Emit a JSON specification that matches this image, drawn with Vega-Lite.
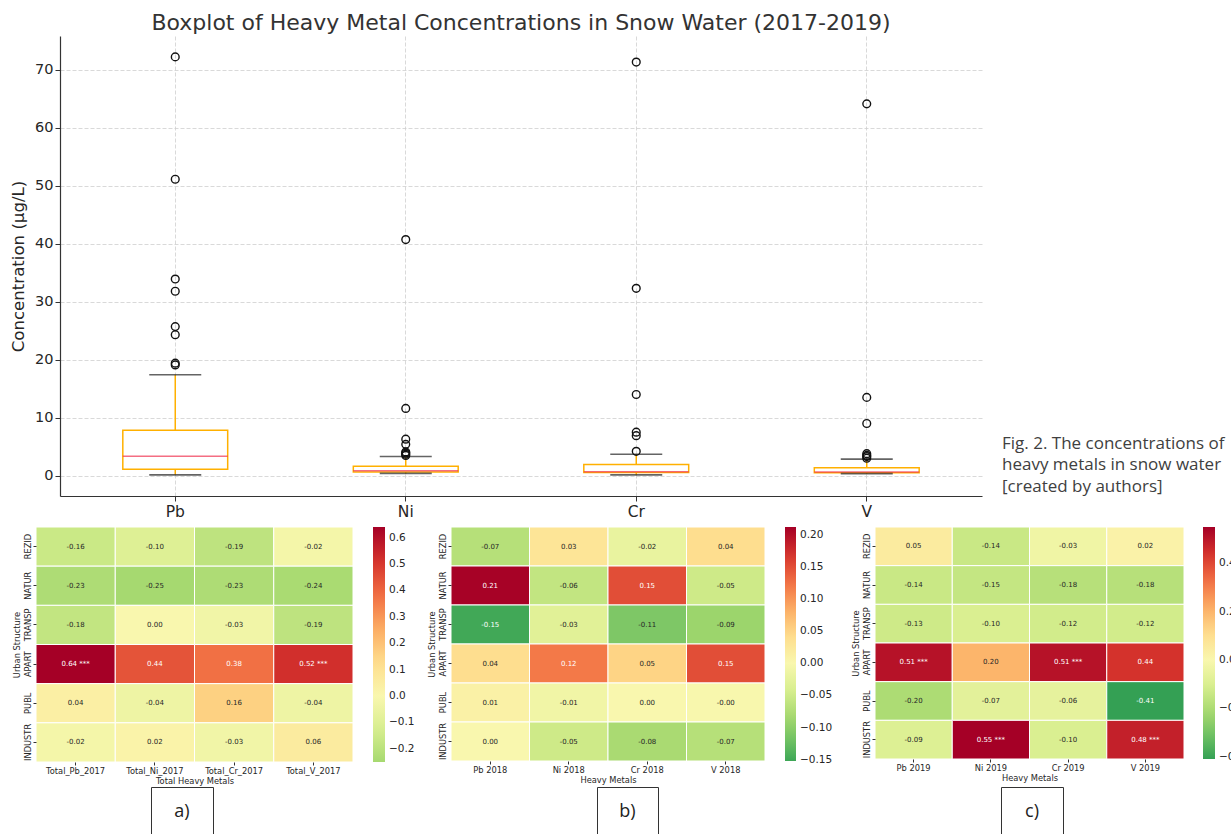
{
  "$schema": "https://vega.github.io/schema/vega-lite/v6.json",
  "autosize": {"type": "none"},
  "padding": {"left": 0, "top": 36, "right": 1231, "bottom": 798},
  "background": "white",
  "config": {
    "font": "DejaVu Sans",
    "view": {"stroke": null},
    "axis": {"labelFont": "DejaVu Sans", "titleFont": "DejaVu Sans"},
    "legend": {"labelFont": "DejaVu Sans"}
  },
  "resolve": {"scale": {"color": "independent"}, "legend": {"color": "independent"}},
  "datasets": {
    "boxstats": [
      {"metal": "Pb", "lower": 0.15, "q1": 1.1, "median": 3.35, "q3": 7.85, "upper": 17.4},
      {"metal": "Ni", "lower": 0.4, "q1": 0.62, "median": 0.85, "q3": 1.65, "upper": 3.3},
      {"metal": "Cr", "lower": 0.15, "q1": 0.55, "median": 0.7, "q3": 1.95, "upper": 3.7},
      {"metal": "V", "lower": 0.35, "q1": 0.5, "median": 0.65, "q3": 1.38, "upper": 2.85}
    ],
    "outliers": [
      {"metal": "Pb", "value": 19.1}, {"metal": "Pb", "value": 19.4}, {"metal": "Pb", "value": 24.3}, {"metal": "Pb", "value": 25.7},
      {"metal": "Pb", "value": 31.8}, {"metal": "Pb", "value": 33.9}, {"metal": "Pb", "value": 51.1}, {"metal": "Pb", "value": 72.2},
      {"metal": "Ni", "value": 3.5}, {"metal": "Ni", "value": 3.7}, {"metal": "Ni", "value": 3.9}, {"metal": "Ni", "value": 4.1},
      {"metal": "Ni", "value": 5.4}, {"metal": "Ni", "value": 6.3}, {"metal": "Ni", "value": 11.6}, {"metal": "Ni", "value": 40.7},
      {"metal": "Cr", "value": 4.2}, {"metal": "Cr", "value": 6.9}, {"metal": "Cr", "value": 7.5}, {"metal": "Cr", "value": 14.0},
      {"metal": "Cr", "value": 32.3}, {"metal": "Cr", "value": 71.3},
      {"metal": "V", "value": 3.0}, {"metal": "V", "value": 3.3}, {"metal": "V", "value": 3.5}, {"metal": "V", "value": 3.8},
      {"metal": "V", "value": 9.0}, {"metal": "V", "value": 13.5}, {"metal": "V", "value": 64.1}
    ],
    "caption": [
      {"line": 1, "text": "Fig. 2. The concentrations of"},
      {"line": 2, "text": "heavy metals in snow water"},
      {"line": 3, "text": "[created by authors]"}
    ],
    "h2017": [
      {"metal": "Total_Pb_2017", "struct": "REZID", "value": -0.16, "label": "-0.16"},
      {"metal": "Total_Ni_2017", "struct": "REZID", "value": -0.10, "label": "-0.10"},
      {"metal": "Total_Cr_2017", "struct": "REZID", "value": -0.19, "label": "-0.19"},
      {"metal": "Total_V_2017", "struct": "REZID", "value": -0.02, "label": "-0.02"},
      {"metal": "Total_Pb_2017", "struct": "NATUR", "value": -0.23, "label": "-0.23"},
      {"metal": "Total_Ni_2017", "struct": "NATUR", "value": -0.25, "label": "-0.25"},
      {"metal": "Total_Cr_2017", "struct": "NATUR", "value": -0.23, "label": "-0.23"},
      {"metal": "Total_V_2017", "struct": "NATUR", "value": -0.24, "label": "-0.24"},
      {"metal": "Total_Pb_2017", "struct": "TRANSP", "value": -0.18, "label": "-0.18"},
      {"metal": "Total_Ni_2017", "struct": "TRANSP", "value": 0.00, "label": "0.00"},
      {"metal": "Total_Cr_2017", "struct": "TRANSP", "value": -0.03, "label": "-0.03"},
      {"metal": "Total_V_2017", "struct": "TRANSP", "value": -0.19, "label": "-0.19"},
      {"metal": "Total_Pb_2017", "struct": "APART", "value": 0.64, "label": "0.64 ***"},
      {"metal": "Total_Ni_2017", "struct": "APART", "value": 0.44, "label": "0.44"},
      {"metal": "Total_Cr_2017", "struct": "APART", "value": 0.38, "label": "0.38"},
      {"metal": "Total_V_2017", "struct": "APART", "value": 0.52, "label": "0.52 ***"},
      {"metal": "Total_Pb_2017", "struct": "PUBL", "value": 0.04, "label": "0.04"},
      {"metal": "Total_Ni_2017", "struct": "PUBL", "value": -0.04, "label": "-0.04"},
      {"metal": "Total_Cr_2017", "struct": "PUBL", "value": 0.16, "label": "0.16"},
      {"metal": "Total_V_2017", "struct": "PUBL", "value": -0.04, "label": "-0.04"},
      {"metal": "Total_Pb_2017", "struct": "INDUSTR", "value": -0.02, "label": "-0.02"},
      {"metal": "Total_Ni_2017", "struct": "INDUSTR", "value": 0.02, "label": "0.02"},
      {"metal": "Total_Cr_2017", "struct": "INDUSTR", "value": -0.03, "label": "-0.03"},
      {"metal": "Total_V_2017", "struct": "INDUSTR", "value": 0.06, "label": "0.06"}
    ],
    "h2018": [
      {"metal": "Pb 2018", "struct": "REZID", "value": -0.07, "label": "-0.07"},
      {"metal": "Ni 2018", "struct": "REZID", "value": 0.03, "label": "0.03"},
      {"metal": "Cr 2018", "struct": "REZID", "value": -0.02, "label": "-0.02"},
      {"metal": "V 2018", "struct": "REZID", "value": 0.04, "label": "0.04"},
      {"metal": "Pb 2018", "struct": "NATUR", "value": 0.21, "label": "0.21"},
      {"metal": "Ni 2018", "struct": "NATUR", "value": -0.06, "label": "-0.06"},
      {"metal": "Cr 2018", "struct": "NATUR", "value": 0.15, "label": "0.15"},
      {"metal": "V 2018", "struct": "NATUR", "value": -0.05, "label": "-0.05"},
      {"metal": "Pb 2018", "struct": "TRANSP", "value": -0.15, "label": "-0.15"},
      {"metal": "Ni 2018", "struct": "TRANSP", "value": -0.03, "label": "-0.03"},
      {"metal": "Cr 2018", "struct": "TRANSP", "value": -0.11, "label": "-0.11"},
      {"metal": "V 2018", "struct": "TRANSP", "value": -0.09, "label": "-0.09"},
      {"metal": "Pb 2018", "struct": "APART", "value": 0.04, "label": "0.04"},
      {"metal": "Ni 2018", "struct": "APART", "value": 0.12, "label": "0.12"},
      {"metal": "Cr 2018", "struct": "APART", "value": 0.05, "label": "0.05"},
      {"metal": "V 2018", "struct": "APART", "value": 0.15, "label": "0.15"},
      {"metal": "Pb 2018", "struct": "PUBL", "value": 0.01, "label": "0.01"},
      {"metal": "Ni 2018", "struct": "PUBL", "value": -0.01, "label": "-0.01"},
      {"metal": "Cr 2018", "struct": "PUBL", "value": 0.00, "label": "0.00"},
      {"metal": "V 2018", "struct": "PUBL", "value": -0.001, "label": "-0.00"},
      {"metal": "Pb 2018", "struct": "INDUSTR", "value": 0.00, "label": "0.00"},
      {"metal": "Ni 2018", "struct": "INDUSTR", "value": -0.05, "label": "-0.05"},
      {"metal": "Cr 2018", "struct": "INDUSTR", "value": -0.08, "label": "-0.08"},
      {"metal": "V 2018", "struct": "INDUSTR", "value": -0.07, "label": "-0.07"}
    ],
    "h2019": [
      {"metal": "Pb 2019", "struct": "REZID", "value": 0.05, "label": "0.05"},
      {"metal": "Ni 2019", "struct": "REZID", "value": -0.14, "label": "-0.14"},
      {"metal": "Cr 2019", "struct": "REZID", "value": -0.03, "label": "-0.03"},
      {"metal": "V 2019", "struct": "REZID", "value": 0.02, "label": "0.02"},
      {"metal": "Pb 2019", "struct": "NATUR", "value": -0.14, "label": "-0.14"},
      {"metal": "Ni 2019", "struct": "NATUR", "value": -0.15, "label": "-0.15"},
      {"metal": "Cr 2019", "struct": "NATUR", "value": -0.18, "label": "-0.18"},
      {"metal": "V 2019", "struct": "NATUR", "value": -0.18, "label": "-0.18"},
      {"metal": "Pb 2019", "struct": "TRANSP", "value": -0.13, "label": "-0.13"},
      {"metal": "Ni 2019", "struct": "TRANSP", "value": -0.10, "label": "-0.10"},
      {"metal": "Cr 2019", "struct": "TRANSP", "value": -0.12, "label": "-0.12"},
      {"metal": "V 2019", "struct": "TRANSP", "value": -0.12, "label": "-0.12"},
      {"metal": "Pb 2019", "struct": "APART", "value": 0.51, "label": "0.51 ***"},
      {"metal": "Ni 2019", "struct": "APART", "value": 0.20, "label": "0.20"},
      {"metal": "Cr 2019", "struct": "APART", "value": 0.51, "label": "0.51 ***"},
      {"metal": "V 2019", "struct": "APART", "value": 0.44, "label": "0.44"},
      {"metal": "Pb 2019", "struct": "PUBL", "value": -0.20, "label": "-0.20"},
      {"metal": "Ni 2019", "struct": "PUBL", "value": -0.07, "label": "-0.07"},
      {"metal": "Cr 2019", "struct": "PUBL", "value": -0.06, "label": "-0.06"},
      {"metal": "V 2019", "struct": "PUBL", "value": -0.41, "label": "-0.41"},
      {"metal": "Pb 2019", "struct": "INDUSTR", "value": -0.09, "label": "-0.09"},
      {"metal": "Ni 2019", "struct": "INDUSTR", "value": 0.55, "label": "0.55 ***"},
      {"metal": "Cr 2019", "struct": "INDUSTR", "value": -0.10, "label": "-0.10"},
      {"metal": "V 2019", "struct": "INDUSTR", "value": 0.48, "label": "0.48 ***"}
    ]
  },
  "vconcat": [
    {
      "resolve": {"scale": {"color": "independent"}, "legend": {"color": "independent"}},
      "vconcat": [
        {
          "hconcat": [
            {"width": 60, "height": 1, "data": {"values": []}, "mark": "text", "encoding": {}},
            {
              "width": 922,
              "height": 460,
              "title": {"text": "Boxplot of Heavy Metal Concentrations in Snow Water (2017-2019)", "fontSize": 22, "font": "DejaVu Sans", "fontWeight": "normal", "color": "#333333", "anchor": "middle", "frame": "group", "baseline": "alphabetic", "offset": -16},
              "layer": [
                {
                  "data": {"name": "boxstats"},
                  "mark": {"type": "rule", "color": "#FFB000", "strokeWidth": 1.5},
                  "encoding": {
                    "x": {"field": "metal", "type": "nominal", "scale": {"type": "band", "domain": ["Pb", "Ni", "Cr", "V"], "paddingInner": 0, "paddingOuter": 0},
                      "axis": {"title": null, "labelAngle": 0, "labelFontSize": 15.5, "labelColor": "#262626", "labelPadding": 3, "tickSize": 5, "tickColor": "#333333", "domainColor": "#333333", "domainWidth": 1.2, "grid": true, "gridColor": "#cfcfcf", "gridDash": [4, 2], "gridWidth": 0.8, "bandPosition": 0.5}},
                    "y": {"field": "lower", "type": "quantitative", "scale": {"domain": [-3.5, 75.8], "nice": false, "zero": false},
                      "axis": {"title": "Concentration (µg/L)", "titleFontSize": 16.6, "titleFontWeight": "normal", "titleColor": "#262626", "titlePadding": 8, "values": [0, 10, 20, 30, 40, 50, 60, 70], "labelFontSize": 14.5, "labelColor": "#262626", "labelPadding": 2, "tickSize": 5, "tickColor": "#333333", "domainColor": "#333333", "domainWidth": 1.2, "grid": true, "gridColor": "#cfcfcf", "gridDash": [4, 2], "gridWidth": 0.8}},
                    "y2": {"field": "upper"}
                  }
                },
                {
                  "data": {"name": "boxstats"},
                  "mark": {"type": "bar", "fill": "white", "stroke": "#FFB000", "strokeWidth": 1.5, "width": {"band": 0.455}},
                  "encoding": {
                    "x": {"field": "metal", "type": "nominal"},
                    "y": {"field": "q1", "type": "quantitative"},
                    "y2": {"field": "q3"}
                  }
                },
                {
                  "data": {"name": "boxstats"},
                  "mark": {"type": "tick", "color": "#F0304E", "thickness": 1.5, "size": 105},
                  "encoding": {
                    "x": {"field": "metal", "type": "nominal"},
                    "y": {"field": "median", "type": "quantitative"}
                  }
                },
                {
                  "data": {"name": "boxstats"},
                  "mark": {"type": "tick", "color": "#222222", "thickness": 1.6, "size": 52},
                  "encoding": {
                    "x": {"field": "metal", "type": "nominal"},
                    "y": {"field": "lower", "type": "quantitative"}
                  }
                },
                {
                  "data": {"name": "boxstats"},
                  "mark": {"type": "tick", "color": "#222222", "thickness": 1.6, "size": 52},
                  "encoding": {
                    "x": {"field": "metal", "type": "nominal"},
                    "y": {"field": "upper", "type": "quantitative"}
                  }
                },
                {
                  "data": {"name": "outliers"},
                  "mark": {"type": "point", "shape": "circle", "filled": false, "stroke": "#111111", "strokeWidth": 1.4, "size": 60, "opacity": 1},
                  "encoding": {
                    "x": {"field": "metal", "type": "nominal"},
                    "y": {"field": "value", "type": "quantitative"}
                  }
                }
              ]
            },
            {"width": 20, "height": 1, "data": {"values": []}, "mark": "text", "encoding": {}},
            {
              "width": 229,
              "height": 460,
              "data": {"name": "caption"},
              "mark": {"type": "text", "align": "left", "baseline": "alphabetic", "font": "Open Sans", "fontSize": 17, "color": "#404040"},
              "encoding": {
                "x": {"datum": 0, "type": "quantitative", "scale": {"domain": [0, 1]}, "axis": null},
                "y": {"field": "line", "type": "quantitative", "scale": {"domain": [-18.21, 3.19], "reverse": true, "nice": false, "zero": false}, "axis": null},
                "text": {"field": "text"}
              }
            }
          ],
          "spacing": 0,
          "bounds": "flush"
        },
        {
          "resolve": {"scale": {"color": "independent"}, "legend": {"color": "independent"}},
          "hconcat": [
            {"width": 36, "height": 1, "data": {"values": []}, "mark": "text", "encoding": {}},
            {
              "width": 317,
              "height": 235,
              "data": {"name": "h2017"},
              "encoding": {
                "x": {"field": "metal", "type": "nominal", "scale": {"type": "band", "domain": ["Total_Pb_2017", "Total_Ni_2017", "Total_Cr_2017", "Total_V_2017"], "paddingInner": 0, "paddingOuter": 0},
                  "axis": {"title": "Total Heavy Metals", "titleFontSize": 8.3, "titleFontWeight": "normal", "titleColor": "#262626", "titlePadding": 2, "labelAngle": 0, "labelFontSize": 8.3, "labelColor": "#262626", "labelPadding": 1, "tickSize": 3, "tickColor": "#333333", "domain": false}},
                "y": {"field": "struct", "type": "nominal", "scale": {"type": "band", "domain": ["REZID", "NATUR", "TRANSP", "APART", "PUBL", "INDUSTR"], "paddingInner": 0, "paddingOuter": 0},
                  "axis": {"title": "Urban Structure", "titleFontSize": 8.3, "titleFontWeight": "normal", "titleColor": "#262626", "titlePadding": 2, "labelAngle": -90, "labelAlign": "center", "labelBaseline": "bottom", "labelFontSize": 8.3, "labelColor": "#262626", "labelPadding": 0.5, "tickSize": 3, "tickColor": "#333333", "domain": false}}
              },
              "layer": [
                {
                  "mark": {"type": "rect", "stroke": "white", "strokeWidth": 1},
                  "encoding": {
                    "color": {"field": "value", "type": "quantitative",
                      "scale": {"domain": [-0.25, 0.64], "scheme": {"name": "redyellowgreen", "extent": [0.6953, 0]}},
                      "legend": {"type": "gradient", "title": null, "orient": "right", "direction": "vertical", "offset": 20, "padding": 0, "gradientLength": 235, "gradientThickness": 12, "gradientStrokeWidth": 0, "labelFontSize": 10.5, "labelColor": "#262626", "labelOffset": 4, "labelOverlap": false, "values": [-0.2, -0.1, 0, 0.1, 0.2, 0.3, 0.4, 0.5, 0.6], "format": ".1f"}}
                  }
                },
                {
                  "mark": {"type": "text", "fontSize": 7, "font": "DejaVu Sans"},
                  "encoding": {
                    "text": {"field": "label"},
                    "color": {"condition": {"test": "abs(datum.value) > 0.35", "value": "white"}, "value": "#262626"}
                  }
                }
              ]
            },
            {"width": 98, "height": 1, "data": {"values": []}, "mark": "text", "encoding": {}},
            {
              "width": 314,
              "height": 234,
              "data": {"name": "h2018"},
              "encoding": {
                "x": {"field": "metal", "type": "nominal", "scale": {"type": "band", "domain": ["Pb 2018", "Ni 2018", "Cr 2018", "V 2018"], "paddingInner": 0, "paddingOuter": 0},
                  "axis": {"title": "Heavy Metals", "titleFontSize": 8.3, "titleFontWeight": "normal", "titleColor": "#262626", "titlePadding": 2, "labelAngle": 0, "labelFontSize": 8.3, "labelColor": "#262626", "labelPadding": 1, "tickSize": 3, "tickColor": "#333333", "domain": false}},
                "y": {"field": "struct", "type": "nominal", "scale": {"type": "band", "domain": ["REZID", "NATUR", "TRANSP", "APART", "PUBL", "INDUSTR"], "paddingInner": 0, "paddingOuter": 0},
                  "axis": {"title": "Urban Structure", "titleFontSize": 8.3, "titleFontWeight": "normal", "titleColor": "#262626", "titlePadding": 2, "labelAngle": -90, "labelAlign": "center", "labelBaseline": "bottom", "labelFontSize": 8.3, "labelColor": "#262626", "labelPadding": 0.5, "tickSize": 3, "tickColor": "#333333", "domain": false}}
              },
              "layer": [
                {
                  "mark": {"type": "rect", "stroke": "white", "strokeWidth": 1},
                  "encoding": {
                    "color": {"field": "value", "type": "quantitative",
                      "scale": {"domain": [-0.152, 0.212], "scheme": {"name": "redyellowgreen", "extent": [0.8585, 0]}},
                      "legend": {"type": "gradient", "title": null, "orient": "right", "direction": "vertical", "offset": 20, "padding": 0, "gradientLength": 234, "gradientThickness": 11, "gradientStrokeWidth": 0, "labelFontSize": 10.5, "labelColor": "#262626", "labelOffset": 4, "labelOverlap": false, "values": [-0.15, -0.1, -0.05, 0, 0.05, 0.1, 0.15, 0.2], "format": ".2f"}}
                  }
                },
                {
                  "mark": {"type": "text", "fontSize": 7, "font": "DejaVu Sans"},
                  "encoding": {
                    "text": {"field": "label"},
                    "color": {"condition": {"test": "abs(datum.value) > 0.115", "value": "white"}, "value": "#262626"}
                  }
                }
              ]
            },
            {"width": 110, "height": 1, "data": {"values": []}, "mark": "text", "encoding": {}},
            {
              "width": 309,
              "height": 232,
              "data": {"name": "h2019"},
              "encoding": {
                "x": {"field": "metal", "type": "nominal", "scale": {"type": "band", "domain": ["Pb 2019", "Ni 2019", "Cr 2019", "V 2019"], "paddingInner": 0, "paddingOuter": 0},
                  "axis": {"title": "Heavy Metals", "titleFontSize": 8.3, "titleFontWeight": "normal", "titleColor": "#262626", "titlePadding": 2, "labelAngle": 0, "labelFontSize": 8.3, "labelColor": "#262626", "labelPadding": 1, "tickSize": 3, "tickColor": "#333333", "domain": false}},
                "y": {"field": "struct", "type": "nominal", "scale": {"type": "band", "domain": ["REZID", "NATUR", "TRANSP", "APART", "PUBL", "INDUSTR"], "paddingInner": 0, "paddingOuter": 0},
                  "axis": {"title": "Urban Structure", "titleFontSize": 8.3, "titleFontWeight": "normal", "titleColor": "#262626", "titlePadding": 2, "labelAngle": -90, "labelAlign": "center", "labelBaseline": "bottom", "labelFontSize": 8.3, "labelColor": "#262626", "labelPadding": 0.5, "tickSize": 3, "tickColor": "#333333", "domain": false}}
              },
              "layer": [
                {
                  "mark": {"type": "rect", "stroke": "white", "strokeWidth": 1},
                  "encoding": {
                    "color": {"field": "value", "type": "quantitative",
                      "scale": {"domain": [-0.41, 0.55], "scheme": {"name": "redyellowgreen", "extent": [0.8727, 0]}},
                      "legend": {"type": "gradient", "title": null, "orient": "right", "direction": "vertical", "offset": 19, "padding": 0, "gradientLength": 232, "gradientThickness": 12, "gradientStrokeWidth": 0, "labelFontSize": 10.5, "labelColor": "#262626", "labelOffset": 4, "labelOverlap": false, "values": [-0.4, -0.2, 0, 0.2, 0.4], "format": ".1f"}}
                  }
                },
                {
                  "mark": {"type": "text", "fontSize": 7, "font": "DejaVu Sans"},
                  "encoding": {
                    "text": {"field": "label"},
                    "color": {"condition": {"test": "abs(datum.value) > 0.3", "value": "white"}, "value": "#262626"}
                  }
                }
              ]
            }
          ],
          "spacing": 0,
          "bounds": "flush"
        }
      ],
      "spacing": 6
    },
    {
      "hconcat": [
        {"width": 151, "height": 1, "data": {"values": []}, "mark": "text", "encoding": {}},
        {"width": 62, "height": 50, "view": {"stroke": "#333333", "strokeWidth": 1}, "data": {"values": [{"panel": "a)"}]}, "mark": {"type": "text", "font": "Open Sans", "fontSize": 18, "color": "#222222"}, "encoding": {"text": {"field": "panel"}}},
        {"width": 384, "height": 1, "data": {"values": []}, "mark": "text", "encoding": {}},
        {"width": 61, "height": 50, "view": {"stroke": "#333333", "strokeWidth": 1}, "data": {"values": [{"panel": "b)"}]}, "mark": {"type": "text", "font": "Open Sans", "fontSize": 18, "color": "#222222"}, "encoding": {"text": {"field": "panel"}}},
        {"width": 343, "height": 1, "data": {"values": []}, "mark": "text", "encoding": {}},
        {"width": 62, "height": 50, "view": {"stroke": "#333333", "strokeWidth": 1}, "data": {"values": [{"panel": "c)"}]}, "mark": {"type": "text", "font": "Open Sans", "fontSize": 18, "color": "#222222"}, "encoding": {"text": {"field": "panel"}}}
      ],
      "spacing": 0,
      "bounds": "flush"
    }
  ],
  "spacing": 1
}
